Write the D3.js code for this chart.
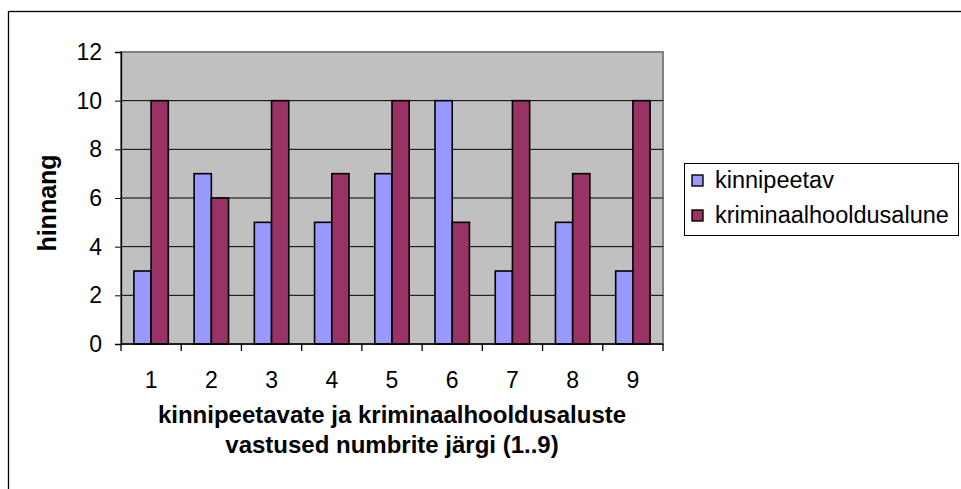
<!DOCTYPE html>
<html>
<head>
<meta charset="utf-8">
<script src="https://cdn.jsdelivr.net/npm/d3@7"></script>
<style>
  body { margin: 0; background: white; }
  text { font-family: "Liberation Sans", Arial, sans-serif; }
</style>
</head>
<body>
<div id="chart"></div>
<script>
let w = 961;
let h = 489;

// data
let categories = ["1", "2", "3", "4", "5", "6", "7", "8", "9"];
let kinnipeetav = [3, 7, 5, 5, 7, 10, 3, 5, 3];
let kriminaal = [10, 6, 10, 7, 10, 5, 10, 7, 10];
let seriesNames = ["kinnipeetav", "kriminaalhooldusalune"];
let seriesColors = ["#9999FF", "#993366"];
let yTicks = [0, 2, 4, 6, 8, 10, 12];

let svg = d3.select("#chart")
  .append("svg")
  .attr("width", w)
  .attr("height", h);

// outer chart border (cut off on right & bottom)
svg.append("rect")
  .attr("x", 8.5)
  .attr("y", 11.5)
  .attr("width", 1000)
  .attr("height", 600)
  .attr("fill", "white")
  .attr("stroke", "black")
  .attr("stroke-width", 1.3);

let plot = { left: 121, top: 52, right: 663, bottom: 344 };

let x = d3.scaleBand()
  .domain(categories)
  .range([plot.left, plot.right]);

let y = d3.scaleLinear()
  .domain([0, 12])
  .range([plot.bottom, plot.top]);

// plot background
svg.append("rect")
  .attr("x", plot.left)
  .attr("y", plot.top)
  .attr("width", plot.right - plot.left)
  .attr("height", plot.bottom - plot.top)
  .attr("fill", "#C0C0C0")
  .attr("stroke", "#808080")
  .attr("stroke-width", 2);

// gridlines
svg.selectAll("line.grid")
  .data(yTicks.filter(d => d > 0 && d < 12))
  .join("line")
  .attr("class", "grid")
  .attr("x1", plot.left)
  .attr("x2", plot.right)
  .attr("y1", d => y(d))
  .attr("y2", d => y(d))
  .attr("stroke", "black")
  .attr("stroke-width", 1);

// bars
let barW = x.bandwidth() / 3.5;
let groups = svg.selectAll("g.cat")
  .data(categories)
  .join("g")
  .attr("class", "cat")
  .attr("transform", d => `translate(${x(d) + (x.bandwidth() - 2 * barW) / 2}, 0)`);

groups.selectAll("rect")
  .data((d, i) => [kinnipeetav[i], kriminaal[i]])
  .join("rect")
  .attr("x", (d, j) => j * barW)
  .attr("y", d => y(d))
  .attr("width", barW)
  .attr("height", d => y(0) - y(d))
  .attr("fill", (d, j) => seriesColors[j])
  .attr("stroke", "black")
  .attr("stroke-width", 1.6);

// y axis
let yAxis = d3.axisLeft(y)
  .tickValues(yTicks)
  .tickSize(6)
  .tickPadding(13);
svg.append("g")
  .attr("transform", `translate(${plot.left}, 0)`)
  .call(yAxis)
  .call(g => g.select(".domain").attr("stroke", "black").attr("stroke-width", 1.3))
  .call(g => g.selectAll("text").attr("font-size", 23).attr("fill", "black").attr("font-family", "Liberation Sans, Arial, sans-serif"));

// x axis: ticks on category boundaries
svg.append("line")
  .attr("x1", plot.left)
  .attr("x2", plot.right)
  .attr("y1", plot.bottom)
  .attr("y2", plot.bottom)
  .attr("stroke", "black")
  .attr("stroke-width", 1.3);

svg.selectAll("line.xtick")
  .data(categories.concat(["end"]))
  .join("line")
  .attr("class", "xtick")
  .attr("x1", (d, i) => plot.left + i * x.step())
  .attr("x2", (d, i) => plot.left + i * x.step())
  .attr("y1", plot.bottom)
  .attr("y2", plot.bottom + 7)
  .attr("stroke", "black")
  .attr("stroke-width", 1.3);

svg.selectAll("text.xlabel")
  .data(categories)
  .join("text")
  .attr("class", "xlabel")
  .attr("x", d => x(d) + x.bandwidth() / 2)
  .attr("y", 388)
  .attr("text-anchor", "middle")
  .attr("font-size", 23)
  .text(d => d);

// axis titles
svg.append("text")
  .attr("transform", "translate(56, 203) rotate(-90)")
  .attr("text-anchor", "middle")
  .attr("font-size", 25)
  .attr("font-weight", "bold")
  .text("hinnang");

svg.append("text")
  .attr("x", (plot.left + plot.right) / 2)
  .attr("y", 423)
  .attr("text-anchor", "middle")
  .attr("font-size", 24)
  .attr("font-weight", "bold")
  .text("kinnipeetavate ja kriminaalhooldusaluste");

svg.append("text")
  .attr("x", (plot.left + plot.right) / 2)
  .attr("y", 453)
  .attr("text-anchor", "middle")
  .attr("font-size", 24)
  .attr("font-weight", "bold")
  .text("vastused numbrite järgi (1..9)");

// legend
let legend = svg.append("g")
  .attr("transform", "translate(684, 163)");

legend.append("rect")
  .attr("x", 0.5)
  .attr("y", 0.5)
  .attr("width", 274)
  .attr("height", 72)
  .attr("fill", "white")
  .attr("stroke", "black")
  .attr("stroke-width", 1);

let items = legend.selectAll("g.item")
  .data(seriesNames)
  .join("g")
  .attr("class", "item")
  .attr("transform", (d, i) => `translate(8, ${i * 35 + 12})`);

items.append("rect")
  .attr("width", 11)
  .attr("height", 11)
  .attr("fill", (d, i) => seriesColors[i])
  .attr("stroke", "black")
  .attr("stroke-width", 1.4);

items.append("text")
  .attr("x", 23)
  .attr("y", 13)
  .attr("font-size", 23.5)
  .text(d => d);
</script>
</body>
</html>
